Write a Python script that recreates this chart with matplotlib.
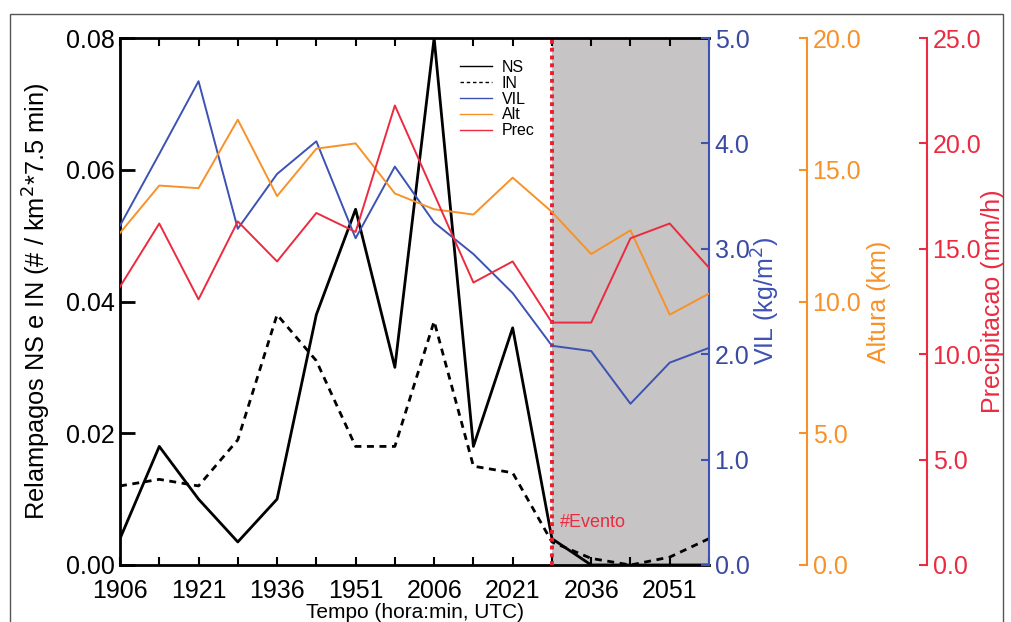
import matplotlib.pyplot as plt
import matplotlib.patches as mpatches
from matplotlib.ticker import FormatStrFormatter

plt.rcParams['font.family'] = ['Liberation Sans', 'DejaVu Sans']

# one point every 7.5 min, labels every 15 min
steps = list(range(16))
tick_labels = ['1906', '1921', '1936', '1951', '2006', '2021', '2036', '2051']
evento_step = 11

ns = [0.004, 0.018, 0.010, 0.0035, 0.010, 0.038, 0.054, 0.030, 0.080, 0.018, 0.036, 0.004, 0.0, 0.0, 0.0, 0.0]
in_ = [0.012, 0.013, 0.012, 0.019, 0.038, 0.031, 0.018, 0.018, 0.037, 0.015, 0.014, 0.0035, 0.001, 0.0, 0.0012, 0.004]
vil = [3.22, 3.90, 4.59, 3.19, 3.71, 4.02, 3.10, 3.78, 3.25, 2.95, 2.58, 2.08, 2.03, 1.53, 1.92, 2.06]
alt = [12.6, 14.4, 14.3, 16.9, 14.0, 15.8, 16.0, 14.1, 13.5, 13.3, 14.7, 13.4, 11.8, 12.7, 9.5, 10.3]
prec = [13.2, 16.2, 12.6, 16.3, 14.4, 16.7, 15.8, 21.8, 17.6, 13.4, 14.4, 11.5, 11.5, 15.5, 16.2, 14.1]

c_blue = '#3d52b2'
c_orange = '#f7922a'
c_red = '#ec2a40'
c_gray = '#c6c4c4'

W, H = 1011, 622
PX = 72 / 100  # points per pixel at dpi 100

fig = plt.figure(figsize=(W / 100, H / 100), dpi=100)
ax = fig.add_axes([120 / W, 57 / H, 589 / W, 527 / H])

# frame around figure
fig.patches.append(mpatches.Rectangle((10 / W, -0.01), 993 / W, 1.01 - 14 / H, transform=fig.transFigure,
                                      fill=False, edgecolor='#555555', lw=1.0))

ax.axvspan(evento_step, steps[-1], color=c_gray, lw=0, zorder=0)
l_ns, = ax.plot(steps, ns, color='black', lw=2.0, label='NS', zorder=3)
l_in, = ax.plot(steps, in_, color='black', lw=2.0, linestyle=(0, (2.5, 2)), label='IN', zorder=3)
ax.axvline(evento_step, color='#ee1c2e', lw=2.8, linestyle=(0, (1, 1)), zorder=4)
ax.text(evento_step + 0.2, 0.0065, '#Evento', color=c_red, fontsize=13, va='center')

ax.set_xlim(0, 15)
ax.set_ylim(0, 0.08)
ax.set_xticks(steps)
ax.set_xticklabels([tick_labels[i // 2] if i % 2 == 0 else '' for i in steps])
ax.set_yticks([0, 0.02, 0.04, 0.06, 0.08])
ax.yaxis.set_major_formatter(FormatStrFormatter('%.2f'))
ax.tick_params(axis='x', direction='in', top=True, length=6, width=1.5, labelsize=18, pad=10)
ax.tick_params(axis='y', direction='in', length=11, width=2, labelsize=18, pad=4)
for s in ['left', 'bottom', 'top']:
    ax.spines[s].set_linewidth(2)
ax.spines['right'].set_visible(False)
ax.set_xlabel('Tempo (hora:min, UTC)', fontsize=15, labelpad=0)
ax.set_ylabel('Relampagos NS e IN (# / km$^2$*7.5 min)', fontsize=18.3, va='center', ha='center')
ax.yaxis.set_label_coords((37 - 120) / 589, 0.5)


def side_axis(offset_px, color, top, label, label_x, tick_color):
    a = ax.twinx()
    a.set_ylim(0, top)
    for s in ['left', 'top', 'bottom']:
        a.spines[s].set_visible(False)
    a.spines['right'].set_color(color)
    a.spines['right'].set_linewidth(1.5)
    if offset_px:
        a.spines['right'].set_position(('outward', offset_px * PX))
    a.yaxis.set_major_formatter(FormatStrFormatter('%.1f'))
    a.tick_params(axis='y', direction='in', length=6, width=1.5, colors=color,
                  labelcolor=tick_color, labelsize=18, pad=4)
    a.set_ylabel(label, color=color, fontsize=18, rotation=90, va='center', ha='center')
    a.yaxis.set_label_coords((label_x - 120) / 589, 0.5)
    return a


ax_vil = side_axis(0, c_blue, 5, 'VIL (kg/m$^2$)', 766, '#3a4aa0')
ax_vil.set_yticks([0, 1, 2, 3, 4, 5])
ax_alt = side_axis(98, c_orange, 20, 'Altura (km)', 879, c_orange)
ax_alt.set_yticks([0, 5, 10, 15, 20])
ax_prec = side_axis(218, c_red, 25, 'Precipitacao (mm/h)', 993, c_red)
ax_prec.set_yticks([0, 5, 10, 15, 20, 25])

l_vil, = ax_vil.plot(steps, vil, color=c_blue, lw=1.4, label='VIL')
l_alt, = ax_alt.plot(steps, alt, color=c_orange, lw=1.4, label='Alt')
l_prec, = ax_prec.plot(steps, prec, color=c_red, lw=1.4, label='Prec')

leg = ax_prec.legend(handles=[l_ns, l_in, l_vil, l_alt, l_prec], loc='upper left',
                     bbox_to_anchor=(460 / W, 1 - 60 / H), bbox_transform=fig.transFigure,
                     frameon=False, fontsize=11.5, handlelength=2.0, handletextpad=0.6,
                     labelspacing=0.05, borderpad=0, borderaxespad=0)
for h in leg.get_lines():
    h.set_linewidth(1.0)

fig.savefig('out.png', dpi=100)
